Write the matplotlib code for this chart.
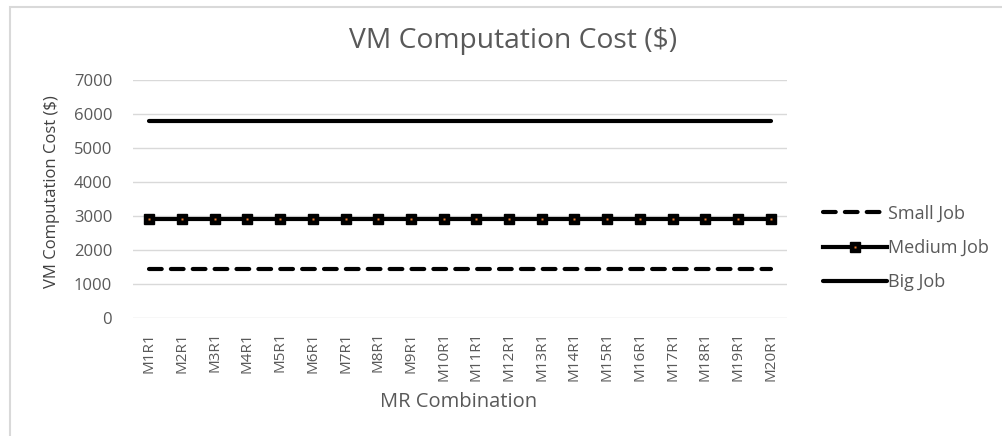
import matplotlib
matplotlib.use("Agg")
import matplotlib.pyplot as plt
from matplotlib.patches import Rectangle

categories = [f"M{i}R1" for i in range(1, 21)]
small_job = [1450] * 20
medium_job = [2900] * 20
big_job = [5800] * 20
y_ticks = [0, 1000, 2000, 3000, 4000, 5000, 6000, 7000]

plt.rcParams["font.family"] = ["Open Sans", "DejaVu Sans"]

W, H = 1003, 436
fig = plt.figure(figsize=(W / 100, H / 100), dpi=100)
ax = fig.add_axes([133 / W, 1 - 318 / H, (787 - 133) / W, (318 - 80) / H])

x = list(range(len(categories)))
l_small, = ax.plot(x, small_job, color="black", lw=3.0, linestyle=(0, (3.05, 2.2)),
                   dash_capstyle="round", solid_capstyle="round", label="Small Job")
l_med, = ax.plot(x, medium_job, color="black", lw=3.0, marker="s", markersize=7,
                 markerfacecolor="black", markeredgecolor="black", label="Medium Job")
l_dot, = ax.plot(x, medium_job, linestyle="none", marker="s", markersize=1.6,
                 markerfacecolor="#ED7D31", markeredgecolor="none")
l_big, = ax.plot(x, big_job, color="black", lw=3.0, solid_capstyle="round", label="Big Job")

ax.set_xlim(-0.5, len(categories) - 0.5)
ax.set_ylim(0, 7000)
ax.set_yticks(y_ticks)
ax.set_xticks(x)
ax.set_xticklabels(categories, rotation=90)
ax.tick_params(axis="both", length=0, labelcolor="#595959")
ax.tick_params(axis="x", pad=10, labelsize=11)
ax.tick_params(axis="y", pad=15, labelsize=12)
ax.grid(axis="y", color="#d9d9d9", lw=1)
ax.set_axisbelow(True)
for s in ax.spines.values():
    s.set_visible(False)

ax.set_ylabel("VM Computation Cost ($)", fontsize=12, color="#404040")
ax.yaxis.set_label_coords((52 - 133) / 654, (318 - 192) / 238)
ax.yaxis.label.set_va("center")
ax.set_xlabel("MR Combination", fontsize=14.5, color="#595959")
ax.xaxis.set_label_coords((459 - 133) / 654, (318 - 402) / 238)
ax.xaxis.label.set_va("center")
fig.text(513 / W, 1 - 48 / H, "VM Computation Cost ($)", fontsize=20.3,
         color="#595959", ha="center", va="baseline")

leg = fig.legend([l_small, (l_med, l_dot), l_big], ["Small Job", "Medium Job", "Big Job"],
                 loc="center left", bbox_to_anchor=(807 / W, 1 - 248 / H),
                 frameon=False, handlelength=3.54, handletextpad=0.02, labelspacing=0.91,
                 prop={"size": 13})
for t in leg.get_texts():
    t.set_color("#595959")

fig.patches.append(Rectangle((10 / W, -0.05), 1.0, 1.05 - 7 / H, transform=fig.transFigure,
                             fill=False, edgecolor="#d9d9d9", lw=1.5, clip_on=False))

fig.savefig("out.png", dpi=100)
